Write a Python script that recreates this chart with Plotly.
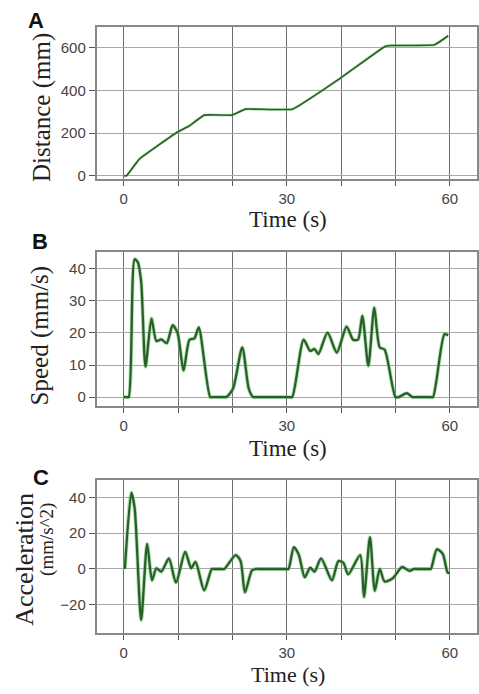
import plotly.graph_objects as go

# ---- data ----
dist_t = [0, 0.5, 2.9, 9.9, 12.1, 14.8, 19.9, 22.4, 31.0, 40.0, 48.0, 49.0, 57.2, 59.7]
dist_mm = [0, 0, 79, 205, 234, 284, 284, 312, 312, 460, 605, 610, 614, 656]

speed_t = [0, 0.5, 0.9, 2.0, 2.6, 3.2, 4.0, 5.1, 6.0, 6.9, 7.9, 9.0, 9.9, 11.0, 12.1, 13.0,
           13.8, 15.9, 16.4, 18.4, 18.9, 20.1, 21.8, 23.0, 23.8, 24.3, 30.5, 31.0,
           33.1, 34.3, 35.1, 35.8, 37.5, 39.2, 41.0, 42.2, 43.1, 43.9, 45.0, 46.1,
           47.1, 48.0, 50.0, 50.6, 52.1, 53.1, 53.6, 56.4, 56.9, 59.0, 59.7]
speed_v = [0, 0, 0, 43, 42, 36, 9.5, 24.5, 17.5, 18, 16.8, 22.4, 20, 8.3, 17.9, 18.3,
           21.7, 0, 0, 0, 0, 2.6, 15.5, 2.6, 0, 0, 0, 0,
           17.9, 14.4, 15, 13.4, 20.1, 13.9, 22, 17.9, 17.9, 25.3, 9.8, 27.9,
           15.5, 14.8, 0, 0, 1.2, 0, 0, 0, 0, 19.6, 19.3]

acc_t = [0.2, 1.4, 2.0, 3.2, 4.3, 5.2, 6.0, 6.9, 8.3, 9.6, 11.3, 12.4, 13.2, 14.8,
         16.2, 16.7, 18.0, 18.5, 20.6, 21.5, 22.3, 23.6, 24.3, 24.8, 29.8, 30.3,
         31.3, 32.2, 33.3, 34.3, 35.1, 36.3, 38.3, 39.5, 40.4, 41.3, 43.5, 44.2,
         45.3, 46.2, 47.1, 48.0, 49.5, 51.2, 52.6, 53.4, 53.9, 56.0, 56.5, 57.6,
         58.7, 59.6, 60.0]
acc_a = [0, 42.6, 34, -28.5, 14, -6.3, 0.4, -1.5, 5.9, -7.6, 9.6, 0.4, 4, -11.9,
         0, 0, 0, 0, 7.8, 4.4, -13, -0.7, 0, 0, 0, 0,
         12.2, 8, -4.6, 0.7, -1.5, 5.9, -6.3, 4.4, 3.5, -3, 7.8, -15.6,
         17.8, -12.2, 0, -7, -5.2, 1.1, -1.1, 0, 0, 0, 0, 11,
         8.5, -2, -2]

x_ticks = [0, 10, 20, 30, 40, 50, 60]
x_ticktext = ["0", "", "", "30", "", "", "60"]
dist_ticks = [0, 200, 400, 600]
speed_ticks = [0, 10, 20, 30, 40]
acc_ticks = [-20, 0, 20, 40]

W, H = 479, 694
DARK = "#2a5f2a"
HALO = "rgba(110,200,110,0.55)"

fig = go.Figure()

def add_series(x, y, xa, ya, width, halo_w, shape, sm):
    fig.add_trace(go.Scatter(x=x, y=y, mode="lines", xaxis=xa, yaxis=ya,
                             line=dict(color=HALO, width=halo_w, shape=shape, smoothing=sm),
                             hoverinfo="skip", showlegend=False))
    fig.add_trace(go.Scatter(x=x, y=y, mode="lines", xaxis=xa, yaxis=ya,
                             line=dict(color=DARK, width=width, shape=shape, smoothing=sm),
                             showlegend=False))

add_series(dist_t, dist_mm, "x", "y", 1.6, 2.8, "spline", 0.3)
add_series(speed_t, speed_v, "x2", "y2", 2.3, 4.0, "spline", 0.7)
add_series(acc_t, acc_a, "x3", "y3", 2.3, 4.0, "spline", 0.7)

tickfont = dict(family="Liberation Sans, Arial, sans-serif", size=15, color="#444")

def xax(anchor):
    return dict(domain=[97 / W, 1.0], range=[-5, 65], anchor=anchor,
                tickvals=x_ticks, ticktext=x_ticktext, tickfont=tickfont,
                showgrid=True, gridcolor="#6e6e6e", gridwidth=1.3,
                ticks="outside", ticklen=5, tickcolor="#555", tickwidth=1.2,
                showline=True, linecolor="#888", linewidth=1.6, mirror=True,
                zeroline=False)

def yax(anchor, top, bottom, rng, tv):
    return dict(domain=[1 - bottom / H, 1 - top / H], range=rng, anchor=anchor,
                tickvals=tv, tickfont=tickfont,
                showgrid=True, gridcolor="#a8a8a8", gridwidth=1.2,
                ticks="outside", ticklen=6, tickcolor="#555", tickwidth=1.2,
                showline=True, linecolor="#888", linewidth=1.6, mirror=True,
                zeroline=False)

serif = "Liberation Serif, Times New Roman, serif"
bold_sans = "Liberation Sans, Arial, sans-serif"

def ann(text, x, y, size, family, angle=0, bold=False, color="#222"):
    if bold:
        text = "<b>" + text + "</b>"
    return dict(text=text, x=x / W, y=1 - y / H, xref="paper", yref="paper",
                showarrow=False, textangle=angle, xanchor="center", yanchor="middle",
                font=dict(family=family, size=size, color=color))

annotations = [
    ann("A", 36, 21, 22, bold_sans, bold=True, color="#111"),
    ann("B", 40, 243, 22, bold_sans, bold=True, color="#111"),
    ann("C", 41, 481, 22, bold_sans, bold=True, color="#111"),
    ann("Distance (mm)", 42, 108, 25, serif, angle=-90),
    ann("Speed (mm/s)", 40, 338, 25, serif, angle=-90),
    ann("Acceleration", 25, 563, 26, serif, angle=-90),
    ann("(mm/s^2)", 47, 543, 19, serif, angle=-90),
    ann("Time (s)", 289, 221, 23, serif),
    ann("Time (s)", 289, 452, 23, serif),
    ann("Time (s)", 289, 679, 22, serif),
]

fig.update_layout(
    width=W, height=H,
    margin=dict(l=0, r=0, t=0, b=0),
    paper_bgcolor="white", plot_bgcolor="white",
    showlegend=False,
    xaxis=xax("y"), yaxis=yax("x", 27, 180, [-14, 698], dist_ticks),
    xaxis2=xax("y2"), yaxis2=yax("x2", 254, 409, [-2.8, 45.2], speed_ticks),
    xaxis3=xax("y3"), yaxis3=yax("x3", 483, 638, [-36, 50], acc_ticks),
    annotations=annotations,
)

fig.write_html("out.html", config={"displayModeBar": False},
               post_script="document.body.style.margin='0px';document.body.style.overflow='hidden';")
